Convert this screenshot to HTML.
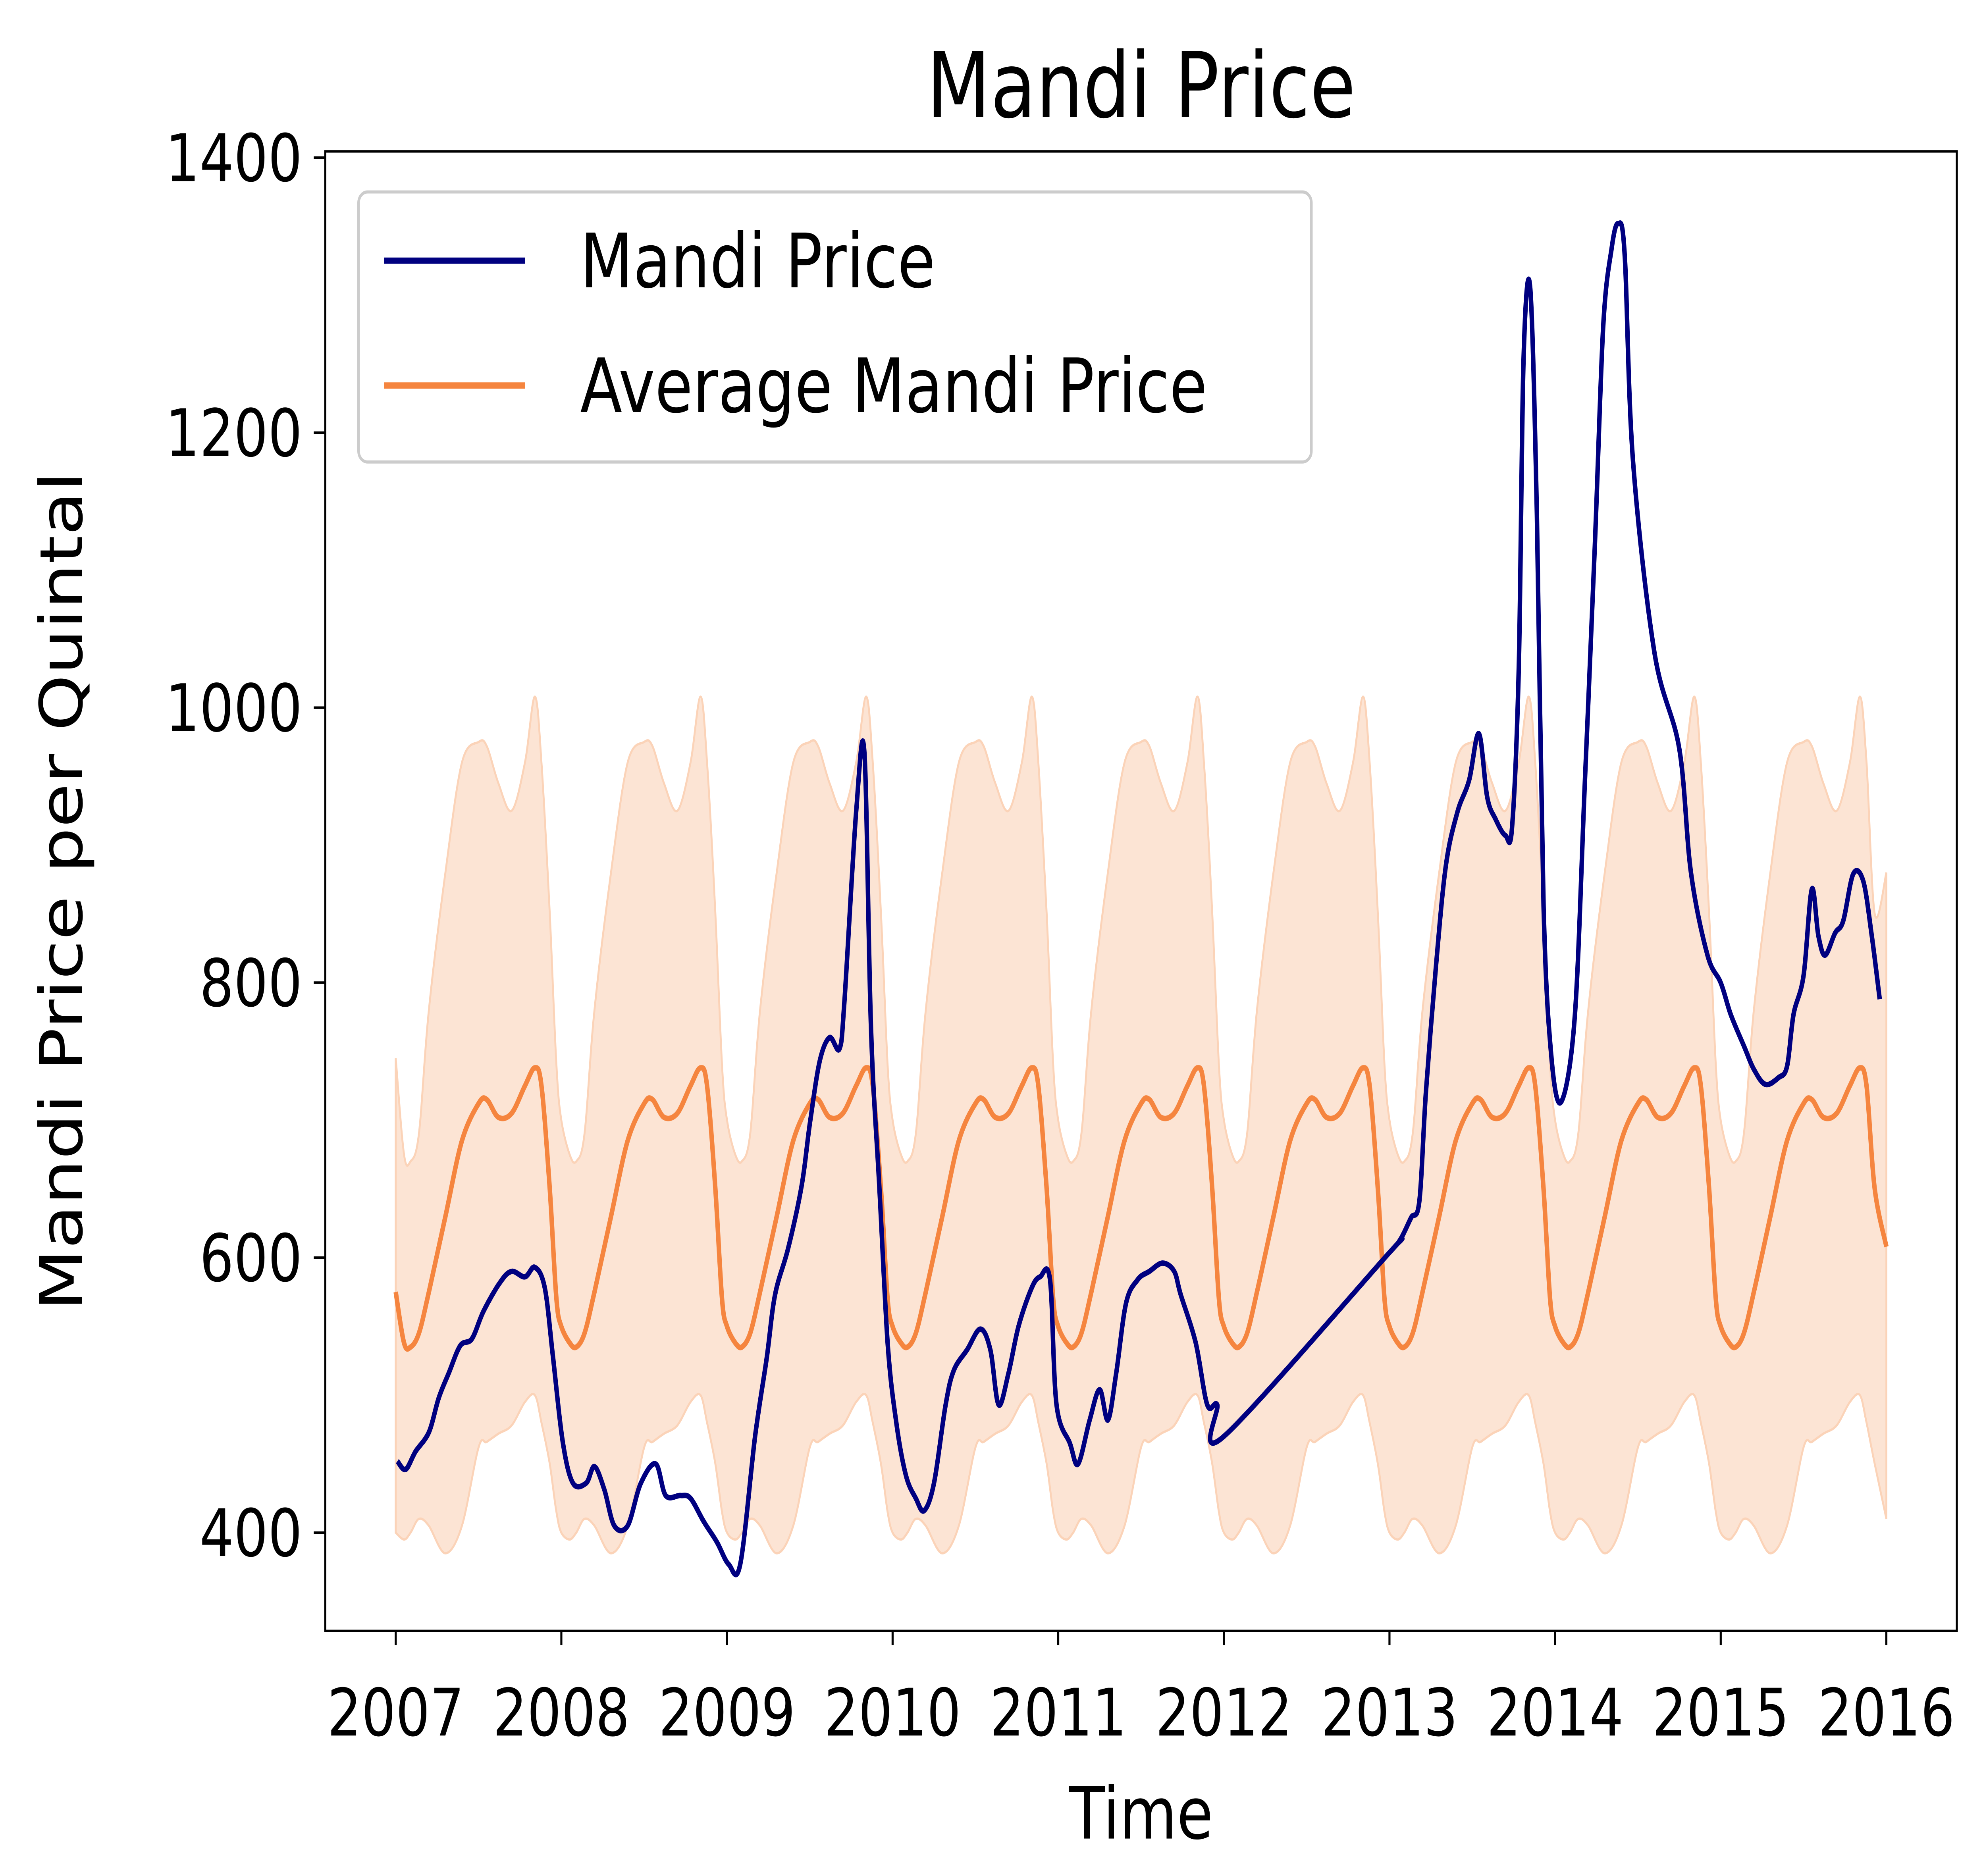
<!DOCTYPE html>
<html><head><meta charset="utf-8"><style>
html,body{margin:0;padding:0;background:#fff;width:100%;height:100%;overflow:hidden;}
svg{display:block;position:fixed;left:0;top:0;width:100vw;height:100vh;}
text{font-family:"DejaVu Sans","Liberation Sans",sans-serif;fill:#000;}
</style></head><body>
<svg id="chart" viewBox="0 0 1550 1202" preserveAspectRatio="none" xmlns="http://www.w3.org/2000/svg">
<rect x="0" y="0" width="1550" height="1202" fill="#fff"/>
<g id="plot"></g>
<rect x="254" y="97" width="1274" height="948" fill="none" stroke="#000" stroke-width="1.6"/>
<g id="ticks"></g>
<text x="891" y="75" font-size="58" text-anchor="middle">Mandi Price</text>
<text x="891" y="1178" font-size="46" text-anchor="middle">Time</text>
<text x="0" y="0" font-size="46" text-anchor="middle" transform="translate(64,571) rotate(-90)">Mandi Price per Quintal</text>
<g>
<rect x="280" y="123" width="744" height="173" rx="7" fill="#fff" fill-opacity="0.8" stroke="#ccc" stroke-width="2"/>
<line x1="300" y1="167" x2="410" y2="167" stroke="#000080" stroke-width="4"/>
<text x="453" y="184" font-size="48">Mandi Price</text>
<line x1="300" y1="247" x2="410" y2="247" stroke="#f5853f" stroke-width="4"/>
<text x="453" y="264" font-size="48">Average Mandi Price</text>
</g>
</svg>
<script>
const yearTicks=[2007,2008,2009,2010,2011,2012,2013,2014,2015,2016];
const valueTicks=[400,600,800,1000,1200,1400];
const profileT=[0,0.05,0.09,0.14,0.2,0.3,0.4,0.5,0.55,0.62,0.7,0.78,0.84,0.88,0.93,0.97];
const avgProfile=[550,538,535,545,575,630,685,712,715,702,705,725,738,725,650,570];
const upperProfile=[700,675,670,690,780,880,960,975,972,945,925,960,1008,960,850,740];
const lowerProfile=[400,395,400,410,405,385,405,462,466,472,478,495,500,480,450,415];
const endAvg=608, endUpper=880, endLower=410;
const mandiYears=[2007.01,2007.06,2007.12,2007.2,2007.26,2007.32,2007.39,2007.46,2007.53,2007.63,2007.7,2007.78,2007.84,2007.9,2007.95,2008.01,2008.07,2008.15,2008.2,2008.26,2008.32,2008.4,2008.48,2008.57,2008.63,2008.72,2008.78,2008.86,2008.94,2009.01,2009.08,2009.17,2009.24,2009.29,2009.37,2009.45,2009.5,2009.56,2009.62,2009.68,2009.71,2009.78,2009.83,2009.87,2009.92,2009.97,2010.02,2010.08,2010.14,2010.19,2010.25,2010.32,2010.37,2010.45,2010.53,2010.59,2010.64,2010.7,2010.76,2010.84,2010.89,2010.95,2010.99,2011.07,2011.12,2011.19,2011.25,2011.3,2011.35,2011.41,2011.48,2011.55,2011.63,2011.7,2011.74,2011.83,2011.9,2011.96,2012.0,2012.98,2013.06,2013.13,2013.18,2013.22,2013.28,2013.34,2013.41,2013.48,2013.54,2013.59,2013.64,2013.7,2013.74,2013.78,2013.81,2013.85,2013.89,2013.93,2013.98,2014.04,2014.12,2014.18,2014.24,2014.29,2014.34,2014.38,2014.42,2014.47,2014.6,2014.75,2014.82,2014.92,2015.0,2015.06,2015.14,2015.2,2015.27,2015.35,2015.4,2015.44,2015.5,2015.55,2015.59,2015.63,2015.69,2015.74,2015.8,2015.86,2015.91,2015.96,2016.0];
const mandiValues=[452,446,459,473,498,516,536,541,561,582,590,586,593,578,527,465,436,436,448,431,405,405,436,450,427,427,425,408,393,377,377,470,527,573,607,652,697,743,760,752,788,924,967,765,652,538,482,442,425,416,436,493,518,533,548,533,493,516,550,578,586,584,493,465,450,482,504,482,516,567,584,590,596,590,573,538,493,493,470,601,612,629,641,720,811,885,924,947,981,935,919,907,913,1027,1254,1305,1140,856,743,714,777,947,1117,1276,1333,1352,1330,1180,1040,970,880,820,800,777,754,737,726,731,739,777,805,868,834,820,836,845,879,874,836,788];

const X=y=>309+(y-2007)*129.33;
const Y=v=>982-(v-400)*0.881;
const NS="http://www.w3.org/2000/svg";
const plot=document.getElementById('plot');
const ticks=document.getElementById('ticks');
function mk(tag,attrs,parent){const e=document.createElementNS(NS,tag);for(const k in attrs)e.setAttribute(k,attrs[k]);parent.appendChild(e);return e;}
function smooth(p,first){let d=(first?'M':'L')+p[0][0].toFixed(1)+','+p[0][1].toFixed(1);
 for(let i=0;i<p.length-1;i++){const p0=p[Math.max(i-1,0)],p1=p[i],p2=p[i+1],p3=p[Math.min(i+2,p.length-1)];
 const c1=[p1[0]+(p2[0]-p0[0])/6,p1[1]+(p2[1]-p0[1])/6],c2=[p2[0]-(p3[0]-p1[0])/6,p2[1]-(p3[1]-p1[1])/6];
 d+='C'+c1[0].toFixed(1)+','+c1[1].toFixed(1)+' '+c2[0].toFixed(1)+','+c2[1].toFixed(1)+' '+p2[0].toFixed(1)+','+p2[1].toFixed(1);}
 return d;}
const up=[],lo=[],av=[];
for(let yr=2007;yr<2016;yr++){profileT.forEach((t,i)=>{if(yr===2015&&t>0.93)return;up.push([yr+t,upperProfile[i]]);lo.push([yr+t,lowerProfile[i]]);av.push([yr+t,avgProfile[i]]);});}
up.push([2016,endUpper]);lo.push([2016,endLower]);av.push([2016,endAvg]);
up[0][1]=745;av[0][1]=575;
const px=a=>a.map(p=>[X(p[0]),Y(p[1])]);
const band=mk('path',{d:smooth(px(up),true)+smooth(px(lo).reverse(),false)+'Z',fill:'#fce4d4',stroke:'#fbd3b8','stroke-width':1.5},plot);


const avgLine=mk('path',{d:smooth(px(av),true),fill:'none',stroke:'#f5853f','stroke-width':3.5,'stroke-linejoin':'round'},plot);


const n=Math.min(mandiYears.length,mandiValues.length);
const mp=mandiYears.slice(0,n).map((y,i)=>[X(y),Y(mandiValues[i])]);
const mandiLine=mk('path',{d:smooth(mp,true),fill:'none',stroke:'#000080','stroke-width':3.5,'stroke-linejoin':'round'},plot);


yearTicks.forEach(y=>{
 const l=mk('line',{x1:X(y),y1:1045,x2:X(y),y2:1054,stroke:'#000','stroke-width':1.6},ticks);
 
 
 const t=mk('text',{x:X(y),y:1112,'font-size':42,'text-anchor':'middle'},ticks);t.textContent=y;
 
 
});
valueTicks.forEach(v=>{
 const l=mk('line',{x1:245,y1:Y(v),x2:254,y2:Y(v),stroke:'#000','stroke-width':1.6},ticks);
 
 
 const t=mk('text',{x:236,y:Y(v)+15,'font-size':42,'text-anchor':'end'},ticks);t.textContent=v;
 
 
});
</script>
</body></html>
